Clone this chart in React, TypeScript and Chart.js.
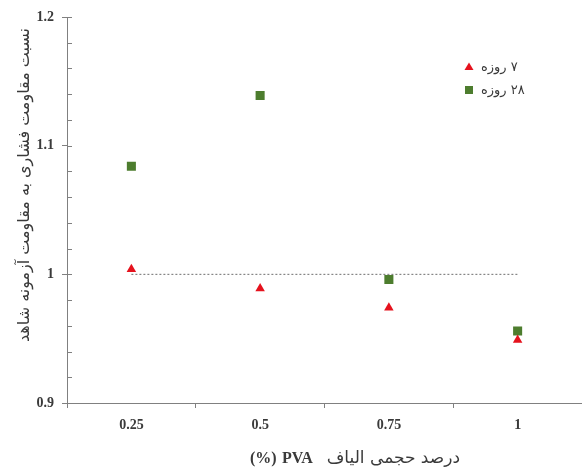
import React, { useEffect, useRef } from 'react';
import { Chart, registerables } from 'chart.js';

Chart.register(...registerables);

const categories = ['0.25', '0.5', '0.75', '1'];
const day7 = [1.004, 0.989, 0.974, 0.949];
const day28 = [1.084, 1.139, 0.996, 0.956];
const referenceLine = [1, 1, 1, 1];
const yMin = 0.9;
const yMax = 1.2;
const yMajorStep = 0.1;
const yMinorStep = 0.02;
const day7Label = '۷ روزه';
const day28Label = '۲۸ روزه';
const xTitleFa = 'درصد حجمی الیاف';
const xTitleLatin = 'PVA';
const xTitleUnit = '(%)';
const yTitle = 'نسبت مقاومت فشاری به مقاومت آزمونه شاهد';

const RED = '#e5121d';
const GREEN = '#4d7d2e';
const AXIS = '#808080';
const TEXT = '#3a3a3a';
const SERIF = "'Liberation Serif', 'DejaVu Serif', serif";
const FA = "'DejaVu Sans', 'Noto Sans', sans-serif";

const decorPlugin = {
  id: 'decor',
  afterDraw(chart: any) {
    const { ctx, chartArea, scales } = chart;
    const y = scales.y;
    ctx.save();
    ctx.strokeStyle = AXIS;
    ctx.lineWidth = 1;
    const n = Math.round((yMax - yMin) / yMinorStep);
    for (let i = 0; i <= n; i++) {
      const v = yMin + i * yMinorStep;
      const py = Math.round(y.getPixelForValue(v)) + 0.5;
      ctx.beginPath();
      ctx.moveTo(chartArea.left, py);
      ctx.lineTo(chartArea.left + 5, py);
      ctx.stroke();
    }

    // legend
    const lx = 469;
    const ly1 = 67;
    const ly2 = 90;
    ctx.fillStyle = RED;
    ctx.beginPath();
    ctx.moveTo(lx, ly1 - 4.5);
    ctx.lineTo(lx + 4.5, ly1 + 3);
    ctx.lineTo(lx - 4.5, ly1 + 3);
    ctx.closePath();
    ctx.fill();
    ctx.fillStyle = GREEN;
    ctx.fillRect(lx - 4, ly2 - 4, 8, 8);

    ctx.fillStyle = TEXT;
    ctx.font = `13px ${FA}`;
    ctx.textBaseline = 'middle';
    ctx.direction = 'rtl';
    ctx.textAlign = 'left';
    ctx.fillText(day7Label, 481, ly1 + 1);
    ctx.fillText(day28Label, 481, ly2 + 1);

    // x title
    ctx.direction = 'ltr';
    ctx.textAlign = 'right';
    ctx.font = `17px ${FA}`;
    ctx.fillText(xTitleFa, 460, 459);
    ctx.textAlign = 'left';
    ctx.font = `bold 16px ${SERIF}`;
    ctx.fillText(xTitleUnit, 250, 459);
    ctx.fillText(xTitleLatin, 282, 459);

    // y title
    ctx.save();
    ctx.translate(25, 185);
    ctx.rotate(-Math.PI / 2);
    ctx.textAlign = 'center';
    ctx.direction = 'rtl';
    ctx.font = `16px ${FA}`;
    ctx.fillText(yTitle, 0, 0);
    ctx.restore();

    ctx.restore();
  },
};

export default function App() {
  const ref = useRef<HTMLCanvasElement>(null);
  useEffect(() => {
    if (!ref.current) return;
    const chart = new Chart(ref.current, {
      type: 'line',
      data: {
        labels: categories,
        datasets: [
          {
            label: 'ref',
            data: referenceLine,
            borderColor: '#6e6e6e',
            borderWidth: 1,
            borderDash: [2, 2],
            pointRadius: 0,
            fill: false,
          },
          {
            label: day7Label,
            data: day7,
            showLine: false,
            pointStyle: 'triangle',
            pointRadius: 5.5,
            backgroundColor: RED,
            borderColor: RED,
            borderWidth: 0,
          },
          {
            label: day28Label,
            data: day28,
            showLine: false,
            pointStyle: 'rect',
            pointRadius: 6.4,
            backgroundColor: GREEN,
            borderColor: GREEN,
            borderWidth: 0,
          },
        ],
      },
      options: {
        animation: false,
        responsive: false,
        layout: { autoPadding: false, padding: { left: 0, right: -1, top: 17, bottom: 0 } },
        plugins: { legend: { display: false }, tooltip: { enabled: false } },
        scales: {
          x: {
            type: 'category',
            offset: true,
            grid: { display: true, offset: true, drawOnChartArea: false, tickLength: 5, color: AXIS },
            border: { display: true, color: AXIS, width: 1 },
            ticks: { color: TEXT, font: { family: SERIF, size: 14, weight: 'bold' }, padding: 9 },
            afterFit: (s: any) => { s.height = 70; s.paddingLeft = 0; s.paddingRight = 0; },
          },
          y: {
            min: yMin,
            max: yMax,
            grid: { display: true, drawOnChartArea: false, tickLength: 5, color: AXIS },
            border: { display: true, color: AXIS, width: 1 },
            ticks: {
              stepSize: yMajorStep,
              color: TEXT,
              font: { family: SERIF, size: 14, weight: 'bold' },
              padding: 8,
              callback: (v: any) => String(Math.round(Number(v) * 10) / 10),
            },
            afterFit: (s: any) => { s.width = 67; s.paddingTop = 0; s.paddingBottom = 0; },
          },
        },
      },
      plugins: [decorPlugin],
    });
    return () => chart.destroy();
  }, []);
  return (
    <div style={{ position: 'fixed', left: 0, top: 0, width: 582, height: 473, background: '#fff' }}>
      <canvas ref={ref} width={582} height={473} style={{ width: 582, height: 473 }} />
    </div>
  );
}
